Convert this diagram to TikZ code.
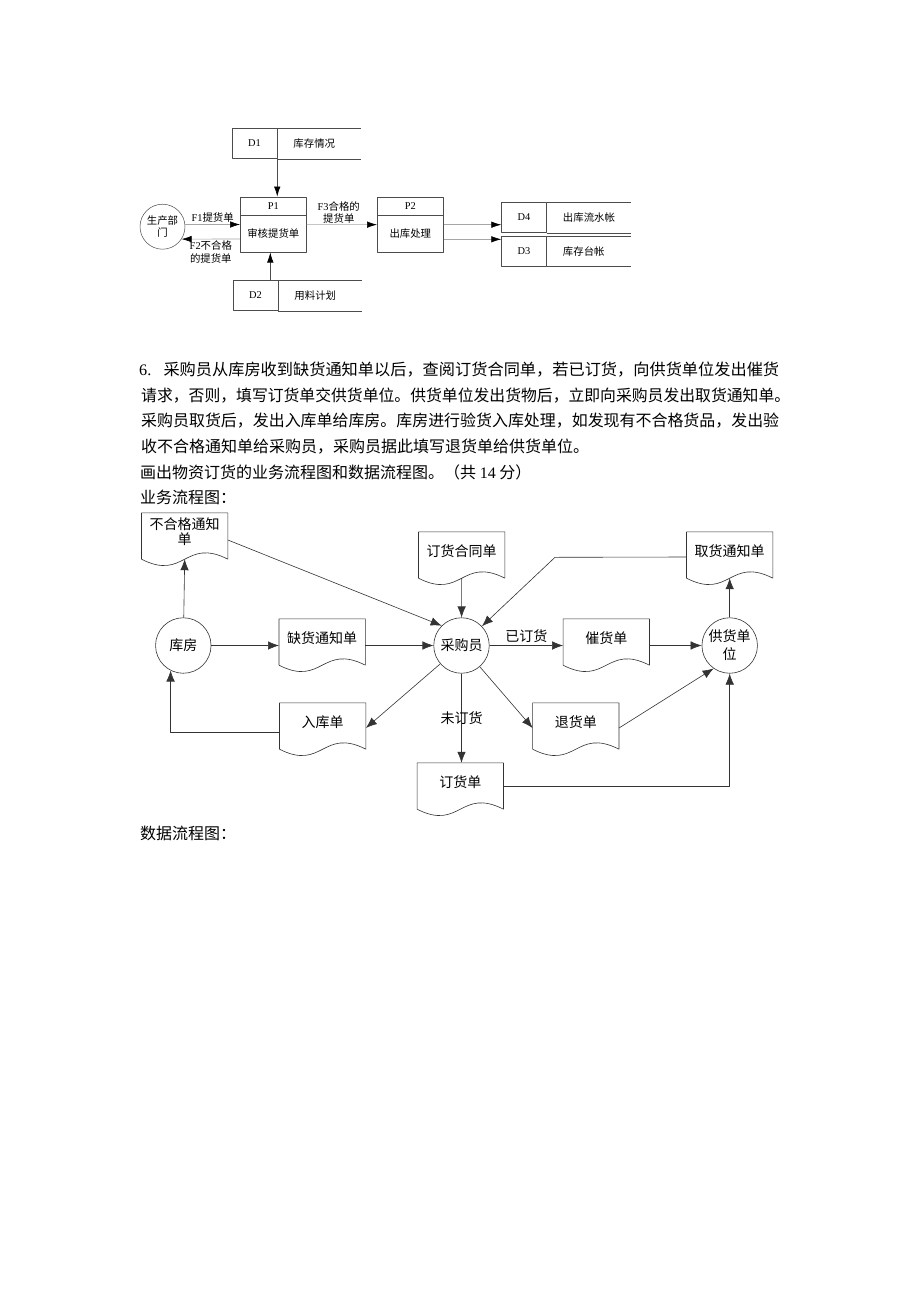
\documentclass[tikz,border=0pt]{standalone}
\usepackage{fontspec}
\usepackage{graphicx}
\setmainfont{Noto Sans CJK SC}
\newfontfamily\lat{Liberation Serif}
\usetikzlibrary{arrows.meta,calc,positioning}
\newcommand\docwave[1]{\draw[docline] ($(#1.south west)+(0,8)$) -- (#1.north west) -- (#1.north east) -- ($(#1.south east)+(0,8)$) .. controls ($(#1.south)+(0,-14)$) and ($(#1.south)+(0,30)$) .. ($(#1.south west)+(0,8)$);
\coordinate (#1-b) at ($(#1.south)+(0,8)$);}

\begin{document}
\begin{tikzpicture}[x=1pt,y=-1pt,line join=round,
 every node/.style={inner sep=0pt},
 body/.style={anchor=west,font=\fontsize{16}{20}\selectfont},
 small/.style={font=\fontsize{10.4}{12.5}\selectfont,align=center},
 idcell/.style={small,draw=black!70,line width=0.5pt,minimum width=45pt,minimum height=30pt},
 procbox/.style={draw=black!70,line width=0.5pt,minimum width=66pt,minimum height=55.5pt},
 ent/.style={small,circle,draw=black!70,line width=0.5pt,minimum size=45pt},
 dline/.style={draw=black!70,line width=0.5pt},
 flow/.style={draw=gray!70,line width=0.6pt,-{Latex[length=10pt,width=6.5pt,color=black]}},
 big/.style={font=\fontsize{14}{16}\selectfont,align=center},
 circ/.style={big,circle,draw=black!80,line width=0.6pt,minimum size=55.5pt},
 doc/.style={big,minimum width=86pt,minimum height=38pt},
 docline/.style={draw=black!80,line width=0.6pt},
 arr/.style={draw=black!80,line width=0.6pt,-{Latex[length=11pt,width=8.5pt]}}]
\fill[white] (0,0) rectangle (920,1302);
\useasboundingbox (0,0) rectangle (920,1302);

\foreach \n/\x/\y/\s/\t in {d1/254.5/143.5/D1/库存情况,d2/255.5/295.5/D2/用料计划,d4/524/217.5/D4/出库流水帐,d3/524/251.3/D3/库存台帐}{
  \node[idcell] (\n) at (\x,\y) {\lat\s};
  \node[small,anchor=west] (\n-t) at ($(\n.east)+(16,0)$) {\t};
  \draw[dline] (\n.north east) -- ++(84,0) (\n.south east) -- ++(84,0);
}
\node[ent] (scbm) at (162.5,226.7) {生产部\\门};
\node[procbox] (p1) at (273.3,224.5) {};
\draw[dline] ($(p1.north west)+(0,18.7)$) -- ($(p1.north east)+(0,18.7)$);
\node[small] (p1-id) at ($(p1.north)+(0,9.3)$) {\lat P1};
\node[small] (p1-t) at ($(p1.south)+(0,-18.5)$) {审核提货单};
\node[procbox] (p2) at (410.3,224.7) {};
\draw[dline] ($(p2.north west)+(0,18.3)$) -- ($(p2.north east)+(0,18.3)$);
\node[small] (p2-id) at ($(p2.north)+(0,9.2)$) {\lat P2};
\node[small] (p2-t) at ($(p2.south)+(0,-19)$) {出库处理};

\draw[flow,draw=black!70] (d1.south east) -- (d1.south east |- p1.north);
\coordinate (p1s) at ([xshift=-3pt]p1.south);
\draw[flow,draw=black!70] (p1s |- d2.north) -- (p1s);
\draw[flow] (p1.west -| scbm.east) -- (p1.west) node[small,midway,above=1.5pt] (f1) {{\lat F1}提货单};
\draw[flow] ([yshift=-14.5pt]p1.west) -- (scbm.-33) node[small,midway,below=1.5pt] (f2) {{\lat F2}不合格\\的提货单};
\draw[flow] (p1) -- (p2) node[small,midway,above=0.5pt,xshift=-3pt] (f3) {{\lat F3}合格的\\提货单};
\draw[flow] (p2.east) -- (p2.east -| d4.west);
\coordinate (p2o) at ([yshift=-14.6pt]p2.east);
\draw[flow] (p2o) -- (p2o -| d3.west);

\node[body] (l1) at (139,370) {\resizebox{640pt}{\height}{{\lat 6.}\hspace{12pt}采购员从库房收到缺货通知单以后，查阅订货合同单，若已订货，向供货单位发出催货}};
\node[body] (l2) at (141,395.5) {\resizebox{649pt}{\height}{请求，否则，填写订货单交供货单位。供货单位发出货物后，立即向采购员发出取货通知单。}};
\node[body] (l3) at (141,421) {\resizebox{638pt}{\height}{采购员取货后，发出入库单给库房。库房进行验货入库处理，如发现有不合格货品，发出验}};
\node[body] (l4) at (141,446.5) {收不合格通知单给采购员，采购员据此填写退货单给供货单位。};
\node[body] (l5) at (140,472) {画出物资订货的业务流程图和数据流程图。（共~{\lat 14}~分）};
\node[body] (l6) at (140,497) {业务流程图：};
\node[body] (l7) at (140,833) {数据流程图：};

\node[circ] (kf) at (183.3,645.5) {库房};
\node[circ] (cgy) at (461.5,645.5) {采购员};
\node[circ,font=\fontsize{14}{18}\selectfont] (ghdw) at (729.7,645.5) {供货单\\位};
\node[doc,font=\fontsize{14}{15}\selectfont] (bhg) at (184.7,532) {不合格通知\\单};
\node[doc] (htd) at (461.7,551) {订货合同单};
\node[doc] (qhtz) at (729.7,551) {取货通知单};
\node[doc] (qhd) at (322.2,638) {缺货通知单};
\node[doc] (rkd) at (322.7,722) {入库单};
\node[doc] (dhd) at (460.3,782) {订货单};
\node[doc] (chd) at (606.3,638) {催货单};
\node[doc] (thd) at (575.8,722) {退货单};
\foreach \d in {bhg,htd,qhtz,qhd,rkd,dhd,chd,thd} {\docwave{\d}}

\draw[arr] (kf) -- (bhg-b);
\draw[arr] ([yshift=-8pt]bhg.east) -- (cgy.135);
\draw[arr] (htd-b) -- (cgy);
\coordinate (qb) at (555,557.3);
\draw[arr] ([yshift=-6pt]qhtz.west) -- (qb) -- (cgy);
\draw[arr] (kf) -- (kf -| qhd.west);
\draw[arr] (qhd.east |- cgy) -- (cgy);
\draw[arr] (cgy) -- ([yshift=-6pt]rkd.east);
\draw[arr] ([yshift=-10.7pt]rkd.west) -| (kf.243);
\draw[arr] (cgy.south) -- (cgy.south |- dhd.north) node[big,midway] (wdh) {未订货};
\draw[arr] (cgy) -- (cgy -| chd.west) node[big,midway,above=3pt] (ydh) {已订货};
\draw[arr] (chd.east |- ghdw) -- (ghdw);
\draw[arr] (cgy) -- ([yshift=-6pt]thd.west);
\draw[arr] ([yshift=-6pt]thd.east) -- (ghdw.235);
\draw[arr] ([yshift=-4pt]dhd.east) -| (ghdw.south);
\draw[arr] (ghdw) -- (qhtz-b);
\end{tikzpicture}
\end{document}
